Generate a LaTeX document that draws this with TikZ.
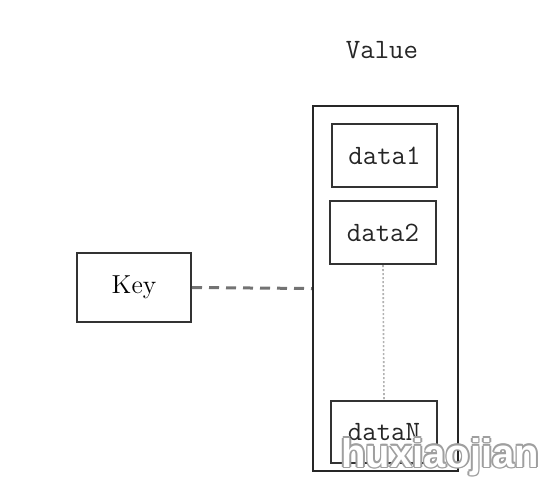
\documentclass[tikz,border=0pt]{standalone}
\usepackage{fontspec}
\newfontfamily\wmfont{Liberation Sans}
\begin{document}
\begin{tikzpicture}[x=0.5pt,y=-0.5pt,
  box/.style={draw=black!80,line width=1pt,inner sep=0pt},
  lbl/.style={font=\ttfamily\fontsize{14}{16}\selectfont,text=black!85},
  wm/.style={font=\wmfont\bfseries\fontsize{20}{22}\selectfont,anchor=base west,inner sep=0pt}]
\useasboundingbox (0,0) rectangle (550,484);
% outer value container
\node[box,draw=black!85,line width=1.2pt,minimum width=72.5pt,minimum height=182.5pt] (outer) at (385.5,288.5) {};
\coordinate (outerW) at (outer.west);
% inner boxes
\node[box,minimum width=52.5pt,minimum height=31.5pt,lbl] (d1) at (384.5,155.5) {data1};
\node[box,minimum width=53pt,minimum height=31.5pt,lbl] (d2) at (383,232.5) {data2};
\node[box,minimum width=53pt,minimum height=31pt,lbl] (dN) at (384,432) {dataN};
% key
\node[box,minimum width=57pt,minimum height=34.5pt,font=\fontsize{13}{15}\selectfont] (key) at (134,287.5) {Key};
% value label
\node[lbl] (val) at (382,50) {Value};
% connectors
\draw[gray!90!black,line width=1.5pt,dash pattern=on 5pt off 3.5pt] (key.east) -- (outerW);
\draw[gray!60,line width=0.8pt,dash pattern=on 1pt off 1pt] (d2.south) -- (dN.north);
% watermark (outlined text)
\foreach \dx/\dy [count=\i] in {-1.6/0,1.6/0,0/-1.6,0/1.6,-1.1/-1.1,1.1/-1.1,-1.1/1.1,1.1/1.1}
  \node[wm,text=gray!75] (wmo\i) at (341+\dx,467+\dy) {huxiaojian};
\node[wm,text=white] (wm) at (341,467) {huxiaojian};
\end{tikzpicture}
\end{document}
